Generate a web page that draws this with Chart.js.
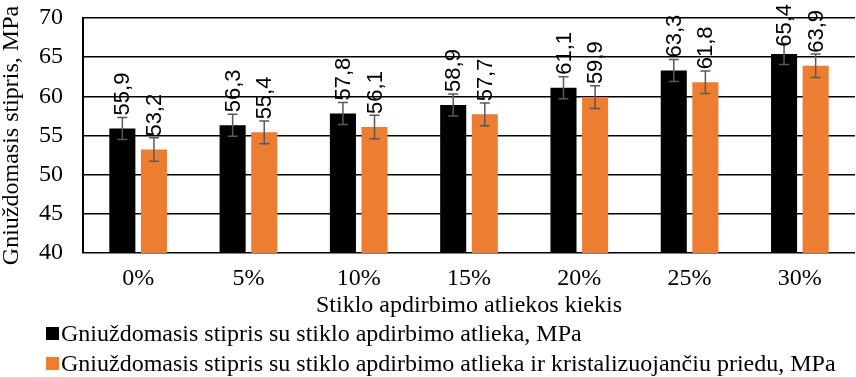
<!DOCTYPE html>
<html lang="lt">
<head>
  <meta charset="UTF-8" />
  <title>Gniuždomasis stipris</title>
  <script src="https://cdn.jsdelivr.net/npm/chart.js"></script>
  <style>
    body { margin: 0; background: #fff; }
    .wrap { position: relative; width: 856px; height: 377px; }
  </style>
</head>
<body>
  <div class="wrap">
    <canvas id="strengthChart"></canvas>
  </div>

  <script>
    // duomenys
    const categories = ['0%', '5%', '10%', '15%', '20%', '25%', '30%'];
    const seriesNames = [
      'Gniuždomasis stipris su stiklo apdirbimo atlieka, MPa',
      'Gniuždomasis stipris su stiklo apdirbimo atlieka ir kristalizuojančiu priedu, MPa'
    ];
    const strengthGlass = [55.9, 56.3, 57.8, 58.9, 61.1, 63.3, 65.4];
    const strengthGlassAdmix = [53.2, 55.4, 56.1, 57.7, 59.9, 61.8, 63.9];
    const errGlass = [1.4, 1.4, 1.4, 1.4, 1.4, 1.4, 1.35];
    const errGlassAdmix = [1.5, 1.45, 1.5, 1.45, 1.45, 1.45, 1.5];
    const yTicks = [40, 45, 50, 55, 60, 65, 70];

    const serif = "'Liberation Serif', 'Times New Roman', serif";
    const sans = "'Liberation Sans', Arial, sans-serif";

    // error bars + rotated value labels
    const barExtras = {
      id: 'barExtras',
      afterDatasetsDraw(chart) {
        const ctx = chart.ctx;
        const y = chart.scales.y;
        chart.data.datasets.forEach((ds, di) => {
          const meta = chart.getDatasetMeta(di);
          meta.data.forEach((bar, i) => {
            const v = ds.data[i];
            const e = ds.errors[i];
            const top = y.getPixelForValue(v + e);
            const bot = y.getPixelForValue(v - e);
            ctx.save();
            ctx.strokeStyle = '#595959';
            ctx.lineWidth = 1.5;
            ctx.beginPath();
            ctx.moveTo(bar.x, top); ctx.lineTo(bar.x, bot);
            ctx.moveTo(bar.x - 5, top); ctx.lineTo(bar.x + 5, top);
            ctx.moveTo(bar.x - 5, bot); ctx.lineTo(bar.x + 5, bot);
            ctx.stroke();
            ctx.restore();

            const txt = v.toFixed(1).replace('.', ',');
            ctx.save();
            ctx.font = '22px ' + sans;
            const w = ctx.measureText(txt).width;
            let start = bar.y - 13;
            if (start - w < 4) start = w + 4;
            ctx.translate(bar.x, start);
            ctx.rotate(-Math.PI / 2);
            ctx.fillStyle = '#000';
            ctx.textAlign = 'left';
            ctx.textBaseline = 'middle';
            ctx.fillText(txt, 0, 1);
            ctx.restore();
          });
        });
      }
    };

    // legend below the axis title
    const bottomLegend = {
      id: 'bottomLegend',
      afterDraw(chart) {
        const ctx = chart.ctx;
        chart.data.datasets.forEach((ds, i) => {
          const cy = 333.5 + i * 30;
          ctx.save();
          ctx.fillStyle = ds.backgroundColor;
          ctx.fillRect(46, cy - 6.5, 13, 13);
          ctx.fillStyle = '#000';
          ctx.font = '24px ' + serif;
          ctx.textAlign = 'left';
          ctx.textBaseline = 'middle';
          ctx.fillText(ds.label, 61, cy + 1);
          ctx.restore();
        });
      }
    };

    new Chart(document.getElementById('strengthChart'), {
      type: 'bar',
      data: {
        labels: categories,
        datasets: [
          {
            label: seriesNames[0],
            data: strengthGlass,
            errors: errGlass,
            backgroundColor: '#000000',
            categoryPercentage: 0.573,
            barPercentage: 0.825
          },
          {
            label: seriesNames[1],
            data: strengthGlassAdmix,
            errors: errGlassAdmix,
            backgroundColor: '#ED7D31',
            categoryPercentage: 0.573,
            barPercentage: 0.825
          }
        ]
      },
      options: {
        responsive: true,
        maintainAspectRatio: false,
        animation: false,
        layout: { padding: { top: 18, right: 1, bottom: 65, left: 0 } },
        plugins: {
          legend: { display: false },
          tooltip: { enabled: false }
        },
        scales: {
          x: {
            grid: { display: false, drawTicks: false },
            border: { display: false },
            ticks: { color: '#000', font: { family: serif, size: 24 }, padding: 11 },
            title: {
              display: true,
              text: 'Stiklo apdirbimo atliekos kiekis',
              color: '#000',
              font: { family: serif, size: 24, lineHeight: 1 },
              padding: { top: 0, bottom: -6 }
            },
            afterFit: s => { s.height = 59; }
          },
          y: {
            min: 40,
            max: 70,
            afterBuildTicks: s => { s.ticks = yTicks.map(v => ({ value: v })); },
            grid: { color: '#000', lineWidth: 1.5, drawTicks: false },
            border: { color: '#000', width: 2 },
            ticks: { color: '#000', font: { family: serif, size: 24 }, padding: 20 },
            title: {
              display: true,
              text: 'Gniuždomasis stipris, MPa',
              color: '#000',
              font: { family: serif, size: 24, lineHeight: 1 },
              padding: 0
            },
            afterFit: s => { s.width = 83; s.paddingTop = 0; s.paddingBottom = 0; }
          }
        }
      },
      plugins: [barExtras, bottomLegend]
    });
  </script>
</body>
</html>
